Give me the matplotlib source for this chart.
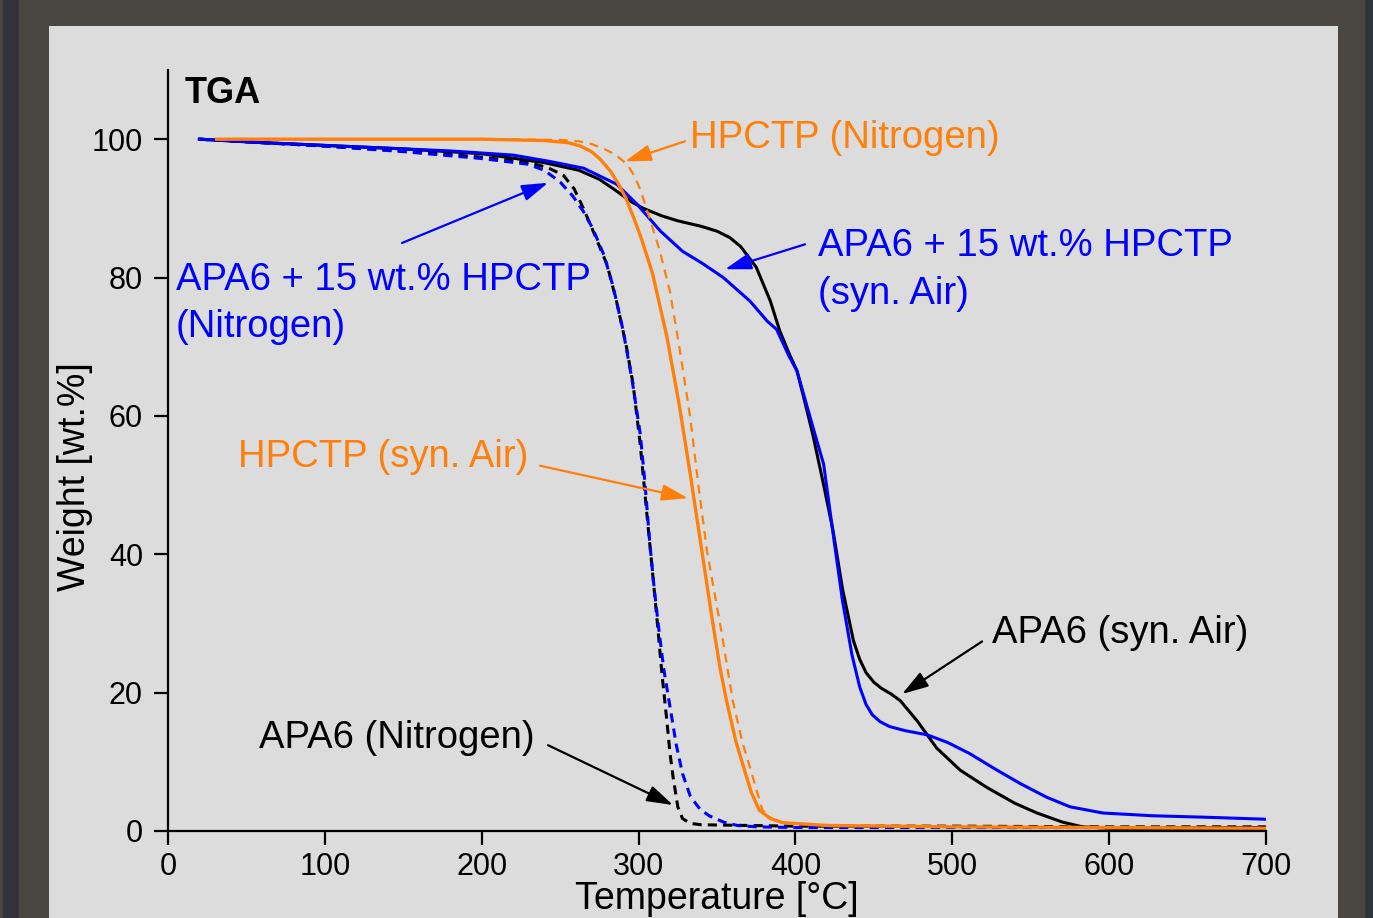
import matplotlib
matplotlib.use("Agg")
import matplotlib.pyplot as plt
from matplotlib.patches import Rectangle

plt.rcParams['font.family'] = ['Liberation Sans', 'DejaVu Sans']

# APA6, synthetic air (black solid)
t_apa6_air = [20, 60, 100, 150, 200, 240, 250, 262, 275, 286, 295, 303, 315, 325, 340, 350,
              358, 365, 375, 384, 390, 396, 401, 406, 411, 418, 424, 430, 437, 441, 445, 450,
              455, 461, 467, 478, 490, 505, 522, 540, 554, 570, 583, 600, 650, 700]
w_apa6_air = [100, 99.5, 99.1, 98.6, 97.9, 96.6, 96.1, 95.5, 94.2, 92.5, 91.0, 90.0, 88.9, 88.2,
              87.4, 86.7, 85.8, 84.5, 81.5, 76.6, 72.3, 69.0, 66.5, 62.0, 57.4, 50.0, 43.4, 35.0,
              27.5, 24.8, 22.9, 21.5, 20.6, 19.8, 18.8, 15.8, 12.0, 8.8, 6.3, 4.0, 2.6, 1.3, 0.6,
              0.4, 0.4, 0.4]

# APA6 + 15 wt.% HPCTP, synthetic air (blue solid)
t_mix_air = [20, 60, 120, 180, 220, 243, 265, 286, 299, 314, 328, 341, 354, 371, 382, 388, 396,
             401, 411, 418, 424, 430, 436, 441, 445, 449, 454, 460, 470, 484, 497, 511, 527, 543,
             560, 575, 596, 628, 660, 700]
w_mix_air = [100, 99.5, 98.9, 98.3, 97.7, 96.8, 95.8, 93.5, 90.6, 86.7, 83.8, 82.0, 80.0, 76.6,
             73.7, 72.5, 68.6, 66.5, 58.5, 53.0, 43.0, 33.3, 25.5, 20.8, 18.3, 16.8, 15.8, 15.1,
             14.5, 13.9, 12.8, 11.2, 9.0, 6.9, 4.9, 3.5, 2.6, 2.2, 2.0, 1.7]

# HPCTP, synthetic air (orange solid)
t_hpctp_air = [31, 100, 200, 240, 255, 263, 270, 276, 282, 287, 292, 297, 302, 309, 318, 326,
               333, 340, 347, 352, 356, 362, 367, 372, 377, 384, 392, 420, 500, 600, 700]
w_hpctp_air = [100, 100, 100, 99.8, 99.5, 99.0, 98.2, 97.0, 95.4, 93.6, 91.4, 88.6, 85.5, 80.5,
               71.5, 61.5, 51.5, 41.0, 30.5, 23.5, 18.9, 13.0, 9.2, 5.5, 3.0, 1.8, 1.2, 0.8, 0.6,
               0.5, 0.4]

# HPCTP, nitrogen (orange dashed)
t_hpctp_n2 = [31, 100, 200, 250, 262, 270, 278, 285, 292.6, 297, 301, 307, 313.6, 320, 326.4,
              333, 338, 343.6, 353, 360, 366, 371, 379, 386, 395, 420, 500, 600, 700]
w_hpctp_n2 = [100, 100, 100, 99.9, 99.7, 99.3, 98.6, 97.8, 96.4, 94.8, 92.8, 88.6, 83.8, 78.0,
              69.4, 59.7, 50.2, 40.5, 28.6, 18.9, 13.0, 9.2, 3.0, 1.6, 1.1, 0.8, 0.6, 0.5, 0.4]

# APA6, nitrogen (black dashed)
t_apa6_n2 = [20, 60, 100, 150, 200, 230, 242, 252, 259, 265, 272, 280, 286, 292, 296.5, 301,
             305, 308, 312, 315, 318, 320, 322, 325, 328, 333, 340, 400, 500, 600, 700]
w_apa6_n2 = [100, 99.5, 99.0, 98.3, 97.4, 96.6, 95.9, 94.8, 92.8, 89.9, 86.2, 81.8, 76.5, 70.3,
             64.6, 56.0, 46.5, 39.5, 30.0, 22.5, 16.0, 11.3, 7.8, 3.5, 1.8, 1.1, 0.9, 0.7, 0.7,
             0.6, 0.6]

# APA6 + 15 wt.% HPCTP, nitrogen (blue dashed)
t_mix_n2 = [20, 60, 100, 150, 200, 229, 240, 250, 258, 265, 271, 278, 284, 290, 296, 301, 304,
            307, 310, 313, 316, 320, 324, 328, 333, 339, 345, 354, 363, 375, 400, 500, 600, 700]
w_mix_n2 = [100, 99.5, 99.0, 98.2, 97.2, 96.4, 95.5, 93.8, 91.8, 89.5, 87.0, 83.2, 78.5, 72.5,
            65.0, 57.5, 50.5, 42.0, 35.0, 29.0, 23.5, 18.0, 12.5, 8.3, 5.0, 3.2, 2.2, 1.3, 0.8,
            0.6, 0.5, 0.5, 0.5, 0.5]

BLUE = '#0000ff'
ORANGE = '#ff7f0a'

fig = plt.figure(figsize=(13.73, 9.18), dpi=100, facecolor='#4a4642')
# backdrop: light panel with darker frame bits
fig.patches.append(Rectangle((0.002, 0), 0.012, 1, transform=fig.transFigure,
                             facecolor='#30343a', edgecolor='none', zorder=-3))
fig.patches.append(Rectangle((0.994, 0), 0.006, 1, transform=fig.transFigure,
                             facecolor='#30343a', edgecolor='none', zorder=-3))
fig.patches.append(Rectangle((49 / 1373, 0), (1338 - 49) / 1373, (918 - 26) / 918,
                             transform=fig.transFigure, facecolor='#dcdcdc',
                             edgecolor='none', zorder=-2))

ax = fig.add_axes([168 / 1373, 1 - 831 / 918, (1266 - 168) / 1373, (831 - 70) / 918])
ax.set_facecolor('none')

ax.plot(t_apa6_n2, w_apa6_n2, color='black', lw=2.2, dashes=(3, 2))
ax.plot(t_mix_n2, w_mix_n2, color=BLUE, lw=2.2, dashes=(3, 2))
ax.plot(t_apa6_air, w_apa6_air, color='black', lw=2.2)
ax.plot(t_mix_air, w_mix_air, color=BLUE, lw=2.2)
ax.plot(t_hpctp_n2, w_hpctp_n2, color=ORANGE, lw=1.6, dashes=(4, 3))
ax.plot(t_hpctp_air, w_hpctp_air, color=ORANGE, lw=2.4)

ax.set_xlim(0, 700)
ax.set_ylim(0, 110)
ax.set_xticks(range(0, 701, 100))
ax.set_yticks(range(0, 101, 20))
for s in ['top', 'right']:
    ax.spines[s].set_visible(False)
for s in ['left', 'bottom']:
    ax.spines[s].set_linewidth(1.6)
ax.tick_params(direction='out', length=10, width=1.6, labelsize=22)
ax.tick_params(axis='x', pad=5)
ax.tick_params(axis='y', pad=8)

fig.text(75 / 1373, 1 - 477 / 918, 'Weight [wt.%]', rotation=90, ha='center',
         va='center', fontsize=27)
fig.text(717 / 1373, 1 - 899 / 918, 'Temperature [°C]', ha='center', va='center',
         fontsize=27)

ax.text(10.8, 106.6, 'TGA', fontsize=26, fontweight='bold', ha='left', va='center')

fs = 27.5
ax.text(332.8, 100.1, 'HPCTP (Nitrogen)', color=ORANGE, fontsize=fs, ha='left', va='center')
ax.text(414.4, 81.1, 'APA6 + 15 wt.% HPCTP\n(syn. Air)', color=BLUE, fontsize=fs,
        ha='left', va='center', linespacing=1.4)
ax.text(5.1, 76.2, 'APA6 + 15 wt.% HPCTP\n(Nitrogen)', color=BLUE, fontsize=fs,
        ha='left', va='center', linespacing=1.4)
ax.text(44.6, 54.0, 'HPCTP (syn. Air)', color=ORANGE, fontsize=fs, ha='left', va='center')
ax.text(58.0, 13.4, 'APA6 (Nitrogen)', color='black', fontsize=fs, ha='left', va='center')
ax.text(525.3, 28.6, 'APA6 (syn. Air)', color='black', fontsize=fs, ha='left', va='center')

arrows = [
    ((329.6, 99.7), (291.3, 96.8), ORANGE),
    ((406.1, 84.8), (355.1, 81.2), BLUE),
    ((149.2, 85.0), (242.3, 93.7), BLUE),
    ((237.2, 52.8), (331.5, 48.1), ORANGE),
    ((242.3, 12.4), (322.0, 3.75), 'black'),
    ((519.0, 27.4), (468.0, 19.8), 'black'),
]
for tail, head, c in arrows:
    ax.annotate('', xy=head, xytext=tail,
                arrowprops=dict(arrowstyle='-|>,head_length=0.8,head_width=0.25',
                                mutation_scale=20, lw=1.6, color=c,
                                shrinkA=0, shrinkB=0))

fig.savefig('out.png', dpi=100, facecolor=fig.get_facecolor())
